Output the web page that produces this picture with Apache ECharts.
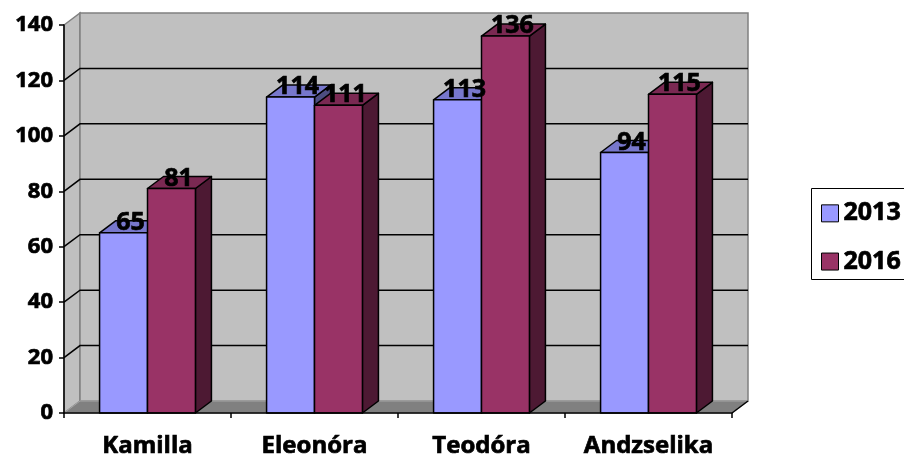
<!DOCTYPE html>
<html>
<head>
<meta charset="utf-8">
<script src="https://cdn.jsdelivr.net/npm/echarts@6/dist/echarts.min.js"></script>
<style>
  html, body { margin: 0; padding: 0; background: #fff; }
  #chart { width: 904px; height: 459px; }
</style>
</head>
<body>
<div id="chart"></div>
<script>
// Chart data
const categories = ['Kamilla', 'Eleonóra', 'Teodóra', 'Andzselika'];
const seriesNames = ['2013', '2016'];
const values2013 = [65, 114, 113, 94];
const values2016 = [81, 111, 136, 115];
const yTicks = [0, 20, 40, 60, 80, 100, 120, 140];

// Pseudo-3D settings
const DX = 16, DY = -12;      // depth offset of walls and columns
const BAR_FRAC = 0.287;       // column width relative to the category band
const FONT = '"Open Sans", "Liberation Sans", sans-serif';
const palette = {
  '2013': { front: '#9999ff', top: '#7777cc', side: '#4d4d80' },
  '2016': { front: '#993366', top: '#7a2952', side: '#4d1933' }
};
// slightly heavier strokes on the bold text
const heavy = { textBorderColor: '#000', textBorderWidth: 0.7 };

function barRenderer(name, slot) {
  const c = palette[name];
  return function (params, api) {
    const idx = api.value(0), val = api.value(1);
    const top = api.coord([idx, val]);
    const base = api.coord([idx, 0]);
    const band = api.size([1, 0])[0];
    const w = band * BAR_FRAC;
    const xl = top[0] + (slot === 0 ? -w : 0);
    const xr = xl + w;
    const yt = top[1], yb = base[1];
    const edge = { stroke: '#000', lineWidth: 1.5, lineJoin: 'round' };
    return {
      type: 'group',
      children: [
        { type: 'polygon', shape: { points: [[xr, yb], [xr, yt], [xr + DX, yt + DY], [xr + DX, yb + DY]] },
          style: Object.assign({ fill: c.side }, edge) },
        { type: 'polygon', shape: { points: [[xl, yt], [xr, yt], [xr + DX, yt + DY], [xl + DX, yt + DY]] },
          style: Object.assign({ fill: c.top }, edge) },
        { type: 'rect', shape: { x: xl, y: yt, width: w, height: yb - yt },
          style: Object.assign({ fill: c.front }, edge) },
        { type: 'text', z2: 100,
          style: { text: String(val), x: (xl + xr) / 2 + 7, y: yt - 10, align: 'center', verticalAlign: 'middle',
                   font: 'bold 25px ' + FONT, fill: '#000', stroke: '#000', lineWidth: 0.7 } }
      ]
    };
  };
}

// Walls, floor and gridlines behind the columns
function frameRenderer(params, api) {
  const cs = params.coordSys;
  const x0 = cs.x, x1 = cs.x + cs.width, yTop = cs.y, yb = cs.y + cs.height;
  const children = [
    { type: 'polygon', shape: { points: [[x0, yb], [x0, yTop], [x0 + DX, yTop + DY], [x0 + DX, yb + DY]] },
      style: { fill: '#c0c0c0', stroke: '#808080', lineWidth: 1.5 } },
    { type: 'rect', shape: { x: x0 + DX, y: yTop + DY, width: cs.width, height: cs.height },
      style: { fill: '#c0c0c0', stroke: '#808080', lineWidth: 1.5 } },
    { type: 'polygon', shape: { points: [[x0, yb], [x1, yb], [x1 + DX, yb + DY], [x0 + DX, yb + DY]] },
      style: { fill: '#808080', stroke: '#a6a6a6', lineWidth: 1 } },
    { type: 'line', shape: { x1: x1, y1: yb, x2: x1 + DX, y2: yb + DY },
      style: { stroke: '#000', lineWidth: 1.5 } }
  ];
  yTicks.forEach(function (t) {
    if (t === 0 || t === yTicks[yTicks.length - 1]) return;
    const y = api.coord([0, t])[1];
    children.push({ type: 'polyline', shape: { points: [[x0, y], [x0 + DX, y + DY], [x1 + DX, y + DY]] },
      style: { stroke: '#000', lineWidth: 1.5, fill: null } });
  });
  return { type: 'group', children: children };
}

const chart = echarts.init(document.getElementById('chart'));
chart.setOption({
  animation: false,
  backgroundColor: '#fff',
  grid: { left: 64, right: 172, top: 25, bottom: 46 },
  // legend frame, running past the right edge of the canvas
  graphic: [{
    type: 'rect', left: 811, top: 188, z: 5,
    shape: { width: 140, height: 91 },
    style: { fill: '#fff', stroke: '#000', lineWidth: 1 }
  }],
  legend: {
    data: seriesNames,
    orient: 'vertical',
    left: 811, top: 188,
    padding: [12.5, 0, 8, 10],
    itemWidth: 17, itemHeight: 17, itemGap: 22.5, itemTextGap: 12,
    icon: 'rect',
    z: 6,
    itemStyle: { borderColor: '#000', borderWidth: 1 },
    textStyle: Object.assign({ fontFamily: FONT, fontWeight: 'bold', fontSize: 25, color: '#000' }, heavy)
  },
  xAxis: {
    type: 'category',
    data: categories,
    z: 10,
    axisLine: { lineStyle: { color: '#000', width: 1.5 } },
    axisTick: { show: true, length: 5, lineStyle: { color: '#000', width: 1.5 } },
    axisLabel: Object.assign({ interval: 0, fontFamily: FONT, fontWeight: 'bold', fontSize: 24, color: '#000', margin: 21 }, heavy),
    splitLine: { show: false }
  },
  yAxis: {
    type: 'value',
    min: 0, max: 140, interval: 20,
    z: 10,
    axisLine: { show: true, lineStyle: { color: '#000', width: 1.5 } },
    axisTick: { show: true, length: 5, lineStyle: { color: '#000', width: 1.5 } },
    axisLabel: Object.assign({ fontFamily: FONT, fontWeight: 'bold', fontSize: 22, color: '#000', margin: 11 }, heavy),
    splitLine: { show: false }
  },
  series: [
    { type: 'custom', name: 'frame', z: 1, silent: true, renderItem: frameRenderer,
      data: [[0, 0]], encode: { x: 0, y: 1 } },
    { type: 'custom', name: '2013', z: 2, renderItem: barRenderer('2013', 0),
      itemStyle: { color: palette['2013'].front },
      data: values2013.map(function (v, i) { return [i, v]; }), encode: { x: 0, y: 1 } },
    { type: 'custom', name: '2016', z: 2, renderItem: barRenderer('2016', 1),
      itemStyle: { color: palette['2016'].front },
      data: values2016.map(function (v, i) { return [i, v]; }), encode: { x: 0, y: 1 } }
  ]
});
</script>
</body>
</html>
